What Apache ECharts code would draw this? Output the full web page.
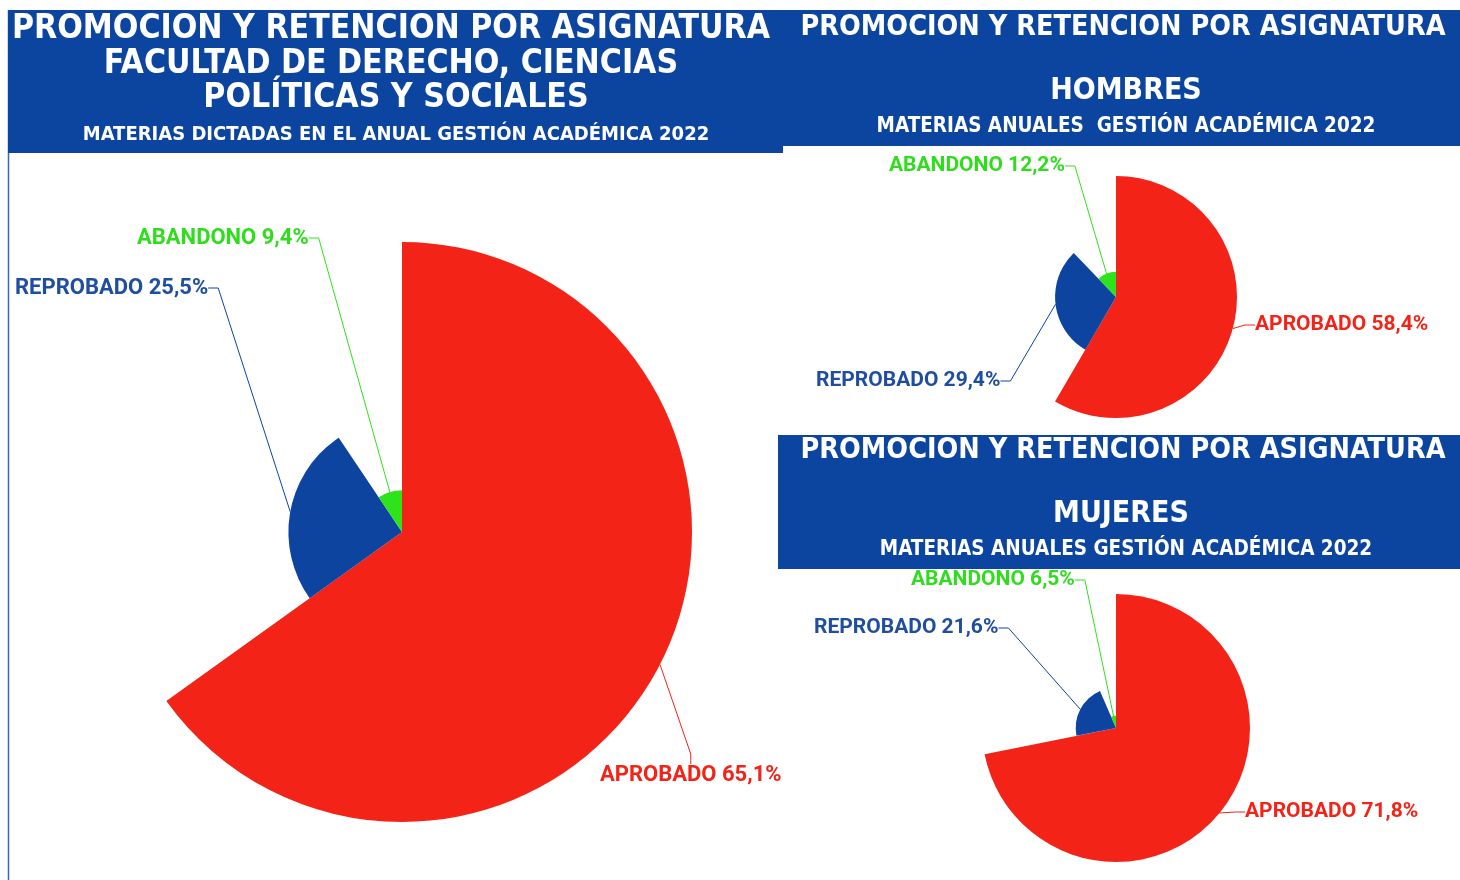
<!DOCTYPE html>
<html>
<head>
<meta charset="utf-8">
<script src="https://cdn.jsdelivr.net/npm/echarts@6/dist/echarts.min.js"></script>
<style>
    html, body { margin: 0; padding: 0; background: #fff; }
    #chart { width: 1460px; height: 880px; }
</style>
</head>
<body>
<div id="chart"></div>
<script>
// categorias y valores (%)
const categorias = ['APROBADO', 'REPROBADO', 'ABANDONO']
const valoresTotal = [65.1, 25.5, 9.4]
const valoresHombres = [58.4, 29.4, 12.2]
const valoresMujeres = [71.8, 21.6, 6.5]
const colores = ['#f42318', '#0c44a0', '#2ee31b']
const coloresTexto = ['#f42318', '#1f4ea0', '#2edd1b']

const azul = '#0b45a0'
const fuenteTitulo = '"DejaVu Sans Condensed", sans-serif'

// posicion de las etiquetas (izquierda, centro vertical) por grafico
const etiquetasTotal = [[600, 775], [15, 288], [137, 238]]
const etiquetasHombres = [[1255, 325], [816, 381], [889, 166]]
const etiquetasMujeres = [[1245, 812], [814, 628], [911, 580]]

const mChart = echarts.init(document.getElementById('chart'))

function armarDatos(valores) {
    return categorias.map((nombre, i) => {
        return {
            name: nombre,
            value: valores[i],
            itemStyle: { color: colores[i] },
            label: { color: coloresTexto[i] },
            labelLine: { lineStyle: { color: colores[i] } }
        }
    })
}

function armarSerie(valores, centro, radio, etiquetas, tamLetra) {
    return {
        type: 'pie',
        roseType: 'radius',
        center: centro,
        radius: [0, radio],
        startAngle: 90,
        clockwise: true,
        animation: false,
        data: armarDatos(valores),
        label: {
            show: true,
            fontFamily: 'Roboto',
            fontWeight: 'bold',
            fontSize: tamLetra,
            overflow: 'none',
            formatter: p => p.name + ' ' + String(p.value).replace('.', ',') + '%'
        },
        labelLine: { show: true, length: 10, length2: 10, lineStyle: { width: 1 } },
        labelLayout: function (params) {
            const pos = etiquetas[params.dataIndex]
            return { x: pos[0], y: pos[1], align: 'left', verticalAlign: 'middle' }
        }
    }
}

function banner(x, y, w, h) {
    return { type: 'rect', shape: { x: x, y: y, width: w, height: h }, style: { fill: azul }, silent: true }
}

function texto(txt, cx, cy, size) {
    return {
        type: 'text', x: cx, y: cy, silent: true,
        style: {
            text: txt, fill: '#fff', font: 'bold ' + size + 'px ' + fuenteTitulo,
            align: 'center', verticalAlign: 'middle'
        }
    }
}

const option = {
    backgroundColor: '#fff',
    graphic: [
        // borde izquierdo del cuadro principal
        { type: 'line', shape: { x1: 8.5, y1: 10, x2: 8.5, y2: 880 }, style: { stroke: '#3a68b0', lineWidth: 1.5 }, silent: true },
        banner(8, 10, 775, 143),
        banner(783, 10, 677, 136),
        banner(778, 435, 682, 134),
        texto('PROMOCION Y RETENCION POR ASIGNATURA', 391, 29, 33.5),
        texto('FACULTAD DE DERECHO, CIENCIAS', 391, 64, 33.5),
        texto('POLÍTICAS Y SOCIALES', 396, 98, 33.5),
        texto('MATERIAS DICTADAS EN EL ANUAL GESTIÓN ACADÉMICA 2022', 396, 135, 20),
        texto('PROMOCION Y RETENCION POR ASIGNATURA', 1123, 28, 28.5),
        texto('HOMBRES', 1126, 91, 30),
        texto('MATERIAS ANUALES  GESTIÓN ACADÉMICA 2022', 1126, 127, 20.5),
        texto('PROMOCION Y RETENCION POR ASIGNATURA', 1123, 451, 28.5),
        texto('MUJERES', 1121, 514, 30),
        texto('MATERIAS ANUALES GESTIÓN ACADÉMICA 2022', 1126, 550, 20.5)
    ],
    series: [
        armarSerie(valoresTotal, [402, 532], 290, etiquetasTotal, 22),
        armarSerie(valoresHombres, [1116, 297], 121, etiquetasHombres, 21),
        armarSerie(valoresMujeres, [1116, 728], 134, etiquetasMujeres, 21)
    ]
}
mChart.setOption(option)
</script>
</body>
</html>
